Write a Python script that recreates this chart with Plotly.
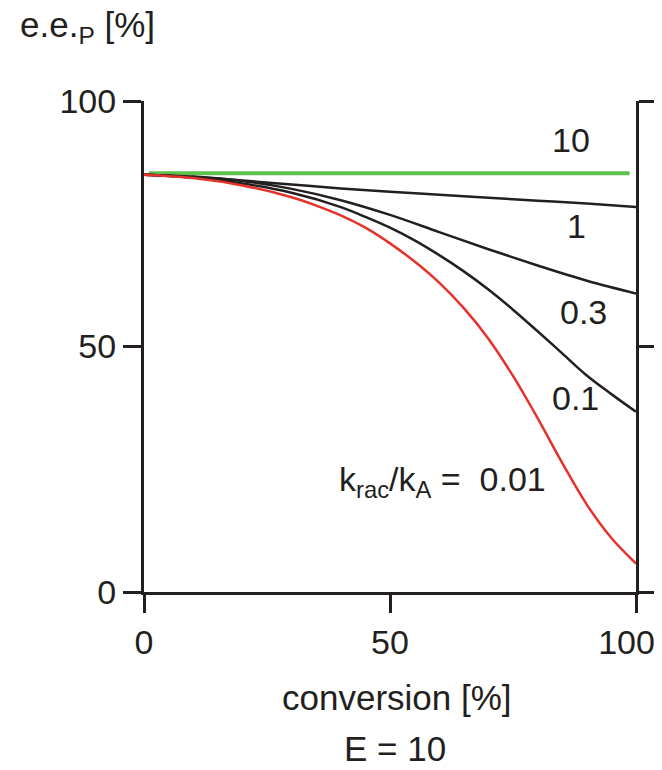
import plotly.graph_objects as go

conv = [0, 10, 20, 30, 40, 50, 60, 70, 80, 90, 100]
ee_1 = [85.0, 84.5, 83.8, 83.0, 82.2, 81.5, 80.9, 80.3, 79.7, 79.1, 78.4]
ee_03 = [85.0, 84.6, 83.7, 82.1, 79.8, 76.8, 73.3, 69.8, 66.5, 63.4, 60.8]
conv_01 = [0, 10, 20, 30, 40, 45, 50, 55, 60, 65, 70, 75, 80, 85, 90, 95, 100]
ee_01 = [85.0, 84.4, 83.2, 81.3, 78.4, 76.4, 74.2, 71.6, 68.6, 65.3, 61.6, 57.5,
         53.1, 48.6, 44.1, 40.3, 36.7]
conv_red = [0, 10, 20, 30, 35, 40, 45, 50, 55, 60, 65, 70, 75, 80, 85, 90, 95, 100]
ee_001 = [85.0, 84.3, 82.8, 80.4, 78.7, 76.7, 74.2, 71.0, 67.3, 63.0, 57.8, 51.6,
          44.0, 35.4, 26.3, 17.8, 11.0, 5.8]
conv_green = [1, 98.7]
ee_10 = [85.3, 85.3]

curve_labels = ["10", "1", "0.3", "0.1",
                "k<sub>rac</sub>/k<sub>A</sub> =\u00a0\u00a00.01"]
label_x = [86.8, 88.0, 89.4, 87.8, 82.1]
label_y = [92.1, 74.5, 57.0, 39.5, 22.5]
x_tick_vals = [0, 50, 100]
x_tick_text = ["0", "50", "100\u00a0\u00a0"]
y_tick_vals = [0, 50, 100]

ink = "#231f20"
font = "Liberation Sans, Arial, Helvetica, sans-serif"

fig = go.Figure()
fig.add_trace(go.Scatter(x=conv_green, y=ee_10, mode="lines",
                         line=dict(color="#5cc24a", width=4)))
fig.add_trace(go.Scatter(x=conv, y=ee_1, mode="lines",
                         line=dict(color=ink, width=2.5, shape="spline")))
fig.add_trace(go.Scatter(x=conv, y=ee_03, mode="lines",
                         line=dict(color=ink, width=2.5, shape="spline")))
fig.add_trace(go.Scatter(x=conv_01, y=ee_01, mode="lines",
                         line=dict(color=ink, width=2.5, shape="spline")))
fig.add_trace(go.Scatter(x=conv_red, y=ee_001, mode="lines",
                         line=dict(color="#e5322b", width=2.5, shape="spline")))

for i, (t, x, y) in enumerate(zip(curve_labels, label_x, label_y)):
    fig.add_annotation(x=x, y=y, text=t, showarrow=False,
                       xanchor="right" if i == 4 else "center", yanchor="middle",
                       font=dict(size=34, color=ink, family=font))

fig.add_annotation(xref="paper", yref="paper", x=0.514, y=-0.214,
                   text="conversion [%]", showarrow=False,
                   xanchor="center", yanchor="middle",
                   font=dict(size=35, color=ink, family=font))
fig.add_annotation(xref="paper", yref="paper", x=0.51, y=-0.318,
                   text="E = 10", showarrow=False,
                   xanchor="center", yanchor="middle",
                   font=dict(size=35, color=ink, family=font))
fig.add_annotation(xref="paper", yref="paper", x=-0.256, y=1.15,
                   text="e.e.<sub>P</sub> [%]", showarrow=False,
                   xanchor="left", yanchor="middle",
                   font=dict(size=35, color=ink, family=font))

# the page body adds an 8px margin, so the figure is sized/offset to compensate
fig.update_layout(
    width=654, height=762,
    margin=dict(l=136, r=26, t=93, b=178),
    paper_bgcolor="white", plot_bgcolor="white",
    showlegend=False,
    font=dict(family=font, size=34, color=ink),
    xaxis=dict(range=[0, 100], tickvals=x_tick_vals, ticktext=x_tick_text,
               showgrid=False, zeroline=False, automargin=False,
               ticklabeloverflow="allow",
               showline=True, linecolor=ink, linewidth=3,
               ticks="outside", ticklen=18, tickwidth=3, tickcolor=ink,
               tickfont=dict(size=34, color=ink)),
    yaxis=dict(range=[0, 100], tickvals=y_tick_vals, showgrid=False, zeroline=False,
               automargin=False, ticklabeloverflow="allow",
               showline=True, linecolor=ink, linewidth=3, mirror="ticks",
               ticks="outside", ticklen=18, tickwidth=3, tickcolor=ink,
               tickfont=dict(size=34, color=ink)),
)
fig.write_html("out.html")
